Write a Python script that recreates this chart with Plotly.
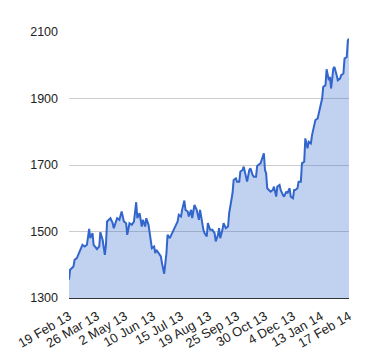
import plotly.graph_objects as go

# trading-day index and closing value
day_index = [0, 1, 4, 5, 7, 9, 11, 12, 14, 16, 18, 19, 21, 22, 25, 27, 28, 30, 32, 33,
             34, 37, 39, 40, 43, 45, 47, 49, 51, 52, 54, 56, 58, 60, 61, 63, 65, 66, 68, 69,
             71, 73, 74, 76, 77, 78, 80, 82, 83, 85, 87, 88, 90, 92, 94, 95, 97, 98, 100, 101,
             103, 104, 106, 107, 109, 110, 112, 114, 116, 117, 118, 120, 121, 123, 124, 126, 128, 130, 131, 133,
             134, 135, 137, 138, 140, 142, 143, 144, 146, 147, 149, 150, 152, 153, 155, 156, 158, 159, 161, 162,
             164, 165, 167, 168, 169, 171, 172, 174, 175, 176, 177, 179, 180, 182, 183, 185, 186, 188, 189, 191,
             192, 194, 195, 197, 198, 200, 201, 202, 204, 205, 207, 208, 210, 211, 213, 214, 216, 217, 219, 220,
             222, 223, 225, 226, 227, 229, 230, 232, 233, 234, 236, 237, 239, 240, 242, 243, 245, 246, 248, 249,
             250]
close = [1355, 1385, 1395, 1415, 1420, 1435, 1455, 1460, 1455, 1460, 1508, 1480, 1495, 1460, 1447, 1455, 1498, 1475, 1430, 1460,
         1530, 1540, 1525, 1510, 1540, 1535, 1560, 1530, 1525, 1490, 1525, 1520, 1530, 1588, 1540, 1555, 1515, 1535, 1515, 1540,
         1520, 1460, 1450, 1455, 1435, 1445, 1435, 1425, 1405, 1373, 1435, 1490, 1480, 1495, 1505, 1515, 1530, 1550, 1545, 1565,
         1593, 1565, 1560, 1545, 1565, 1540, 1580, 1565, 1535, 1565, 1540, 1505, 1495, 1485, 1525, 1505, 1505, 1495, 1470, 1490,
         1510, 1480, 1505, 1525, 1510, 1515, 1555, 1575, 1615, 1655, 1660, 1650, 1650, 1680, 1685, 1695, 1665, 1650, 1685, 1690,
         1670, 1665, 1665, 1697, 1700, 1705, 1715, 1735, 1685, 1675, 1630, 1625, 1620, 1625, 1635, 1605, 1635, 1640, 1625, 1610,
         1605, 1620, 1615, 1630, 1605, 1600, 1625, 1625, 1630, 1650, 1650, 1705, 1710, 1780, 1750, 1770, 1765, 1790, 1825, 1835,
         1840, 1855, 1885, 1900, 1935, 1940, 1988, 1955, 1965, 1930, 1990, 1995, 1970, 1955, 1960, 1970, 1975, 2020, 2025, 2075,
         2080]

tick_positions = [0, 25, 50, 75, 100, 125, 150, 175, 200, 225, 250]
tick_labels = ["19 Feb 13", "26 Mar 13", "2 May 13", "10 Jun 13", "15 Jul 13", "19 Aug 13",
               "25 Sep 13", "30 Oct 13", "4 Dec 13", "13 Jan 14", "17 Feb 14"]
y_ticks = [1300, 1500, 1700, 1900, 2100]

fig = go.Figure()
fig.add_trace(go.Scatter(
    x=day_index, y=close, mode="lines",
    line=dict(color="#3366cc", width=2),
    fill="tozeroy", fillcolor="rgba(51,102,204,0.3)",
    hoverinfo="skip", showlegend=False,
))

# the page body adds an 8px offset, so the figure is sized/margined to compensate
fig.update_layout(
    width=372, height=352,
    margin=dict(l=61, r=31, t=24, b=62),
    paper_bgcolor="white", plot_bgcolor="white",
    font=dict(family="Liberation Sans, Arial, sans-serif", size=12, color="#222"),
    xaxis=dict(
        range=[0, 250], tickmode="array", tickvals=tick_positions, ticktext=tick_labels,
        tickangle=-30, showgrid=False, zeroline=False, ticks="", automargin=False,
        showline=True, linecolor="#333", linewidth=1, ticklabelstandoff=5,
        tickfont=dict(size=13, color="#222"),
    ),
    yaxis=dict(
        range=[1300, 2100], tickmode="array", tickvals=y_ticks, automargin=False,
        showgrid=True, gridcolor="#cccccc", gridwidth=1, zeroline=False,
        ticks="", ticklabelstandoff=10,
        tickfont=dict(size=12.5, color="#222"),
    ),
)

fig.write_html("out.html")
